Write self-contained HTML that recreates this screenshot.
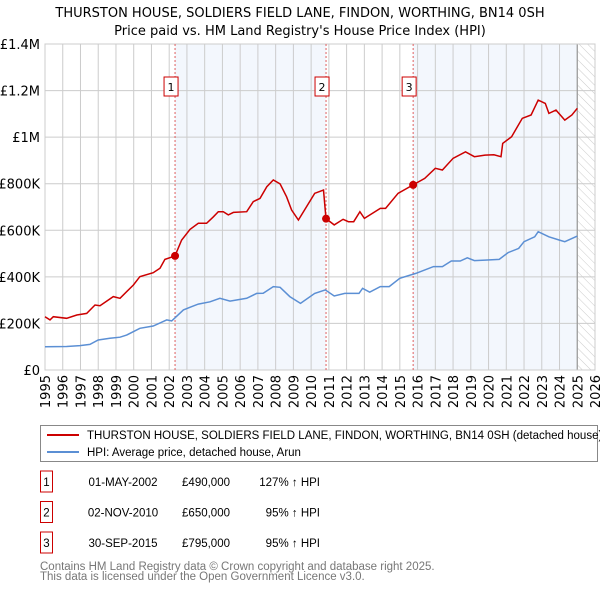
<!DOCTYPE html>
<html><head><meta charset="utf-8"><style>
body{margin:0;background:#fff;font-family:"Liberation Sans","DejaVu Sans",sans-serif;}
svg text{font-family:"DejaVu Sans","Liberation Sans",sans-serif;}
svg text.ls{font-family:"Liberation Sans","DejaVu Sans",sans-serif;}
</style></head><body>
<svg id="c" width="600" height="590" xmlns="http://www.w3.org/2000/svg">
<defs><pattern id="hatch" width="6" height="6" patternUnits="userSpaceOnUse" patternTransform="rotate(-45)"><line x1="0" y1="0" x2="0" y2="6" stroke="#ccc" stroke-width="1"/></pattern></defs>
<text x="300" y="17" text-anchor="middle" font-size="13" fill="#000">THURSTON HOUSE, SOLDIERS FIELD LANE, FINDON, WORTHING, BN14 0SH</text>
<text x="300" y="35" text-anchor="middle" font-size="13" fill="#000">Price paid vs. HM Land Registry's House Price Index (HPI)</text>
<g id="plot"></g>
<g>
<rect x="40.5" y="425.5" width="557" height="36" fill="#fff" stroke="#888"/>
<line x1="47" y1="435" x2="79" y2="435" stroke="#cc0000" stroke-width="2"/>
<text class="ls" x="87" y="439" font-size="11.5">THURSTON HOUSE, SOLDIERS FIELD LANE, FINDON, WORTHING, BN14 0SH (detached house)</text>
<line x1="47" y1="452" x2="79" y2="452" stroke="#5b8fd4" stroke-width="2"/>
<text class="ls" x="87" y="456" font-size="11.5">HPI: Average price, detached house, Arun</text>
</g>
<g id="table" font-size="11.5"></g>
<text class="ls" x="40" y="570" font-size="11.5" fill="#777">Contains HM Land Registry data © Crown copyright and database right 2025.</text>
<text class="ls" x="40" y="580" font-size="11.5" fill="#777">This data is licensed under the Open Government Licence v3.0.</text>
</svg>
<script>
const redYears=[1995.0,1995.28,1995.47,1996.22,1996.79,1997.35,1997.82,1998.1,1998.85,1999.23,1999.98,2000.35,2001.1,2001.48,2001.76,2002.33,2002.7,2003.17,2003.64,2004.11,2004.49,2004.77,2005.05,2005.33,2005.62,2006.37,2006.74,2007.12,2007.5,2007.87,2008.25,2008.62,2008.9,2009.28,2010.2,2010.7,2010.84,2011.3,2011.8,2012.1,2012.4,2012.75,2013.0,2013.9,2014.2,2014.9,2015.75,2016.4,2017.0,2017.4,2018.0,2018.7,2019.2,2019.8,2020.3,2020.7,2020.8,2021.3,2021.9,2022.4,2022.8,2023.2,2023.4,2023.8,2024.3,2024.7,2025.0];
const redValues=[229,215,229,222,236,243,279,276,315,308,365,401,418,437,475,490,558,604,630,630,658,680,680,666,677,680,723,737,787,816,799,744,687,644,759,773,650,623,647,637,637,680,651,694,694,759,795,823,866,859,909,937,916,923,924,916,973,1002,1081,1095,1159,1145,1102,1116,1073,1095,1124];
const hpiYears=[1995.0,1996.22,1996.97,1997.53,1998.0,1998.66,1999.23,1999.6,2000.35,2001.1,2001.86,2002.14,2002.8,2003.26,2003.64,2004.3,2004.86,2005.43,2006.37,2006.93,2007.3,2007.87,2008.25,2008.8,2009.4,2010.2,2010.8,2011.3,2011.9,2012.7,2012.9,2013.3,2013.9,2014.4,2015.0,2015.9,2016.9,2017.4,2017.9,2018.4,2018.8,2019.2,2019.8,2020.6,2021.1,2021.7,2022.0,2022.6,2022.8,2023.4,2024.0,2024.3,2025.0];
const hpiValues=[100,101,105,110,129,136,141,150,179,189,215,211,258,272,283,293,308,296,308,329,330,358,355,315,286,329,344,318,329,329,351,334,358,358,394,415,444,444,468,468,482,470,472,475,504,522,551,572,594,572,558,551,575];
const saleYears=[2002.33,2010.84,2015.75];
const saleValues=[490,650,795];
const saleDates=["01-MAY-2002","02-NOV-2010","30-SEP-2015"];
const salePrices=["£490,000","£650,000","£795,000"];
const saleHpi=["127% ↑ HPI","95% ↑ HPI","95% ↑ HPI"];
const yTicks=[0,200,400,600,800,1000,1200,1400];
const yTickLabels=["£0","£200K","£400K","£600K","£800K","£1M","£1.2M","£1.4M"];
const xStart=1995,xEnd=2026,dataEnd=2025.0;

const L=45,R=595,T=44,B=370,NS="http://www.w3.org/2000/svg";
const X=y=>L+(y-xStart)/(xEnd-xStart)*(R-L);
const Y=v=>B-v/1400*(B-T);
const plot=document.getElementById('plot');
function mk(tag,attrs,parent){const e=document.createElementNS(NS,tag);for(const k in attrs)e.setAttribute(k,attrs[k]);(parent||plot).appendChild(e);return e;}
let bg=mk('rect',{x:L,y:T,width:R-L,height:B-T,fill:'#fff'});


const shadeRanges=[[saleYears[0],saleYears[1]],[saleYears[2],dataEnd]];
shadeRanges.forEach(r=>{let s=mk('rect',{x:X(r[0]),y:T,width:X(r[1])-X(r[0]),height:B-T,fill:'#eef3fc',opacity:0.7});

});
let h=mk('rect',{x:X(dataEnd),y:T,width:R-X(dataEnd),height:B-T,fill:'url(#hatch)'});


for(let yr=xStart;yr<=xEnd;yr++){let g=mk('line',{x1:X(yr),x2:X(yr),y1:T,y2:B,stroke:'#ccc','stroke-width':1});


let t=mk('text',{x:0,y:0,'font-size':13,'text-anchor':'end',transform:`translate(${X(yr)+5},${B+5}) rotate(-90)`});
t.textContent=yr;

}
yTicks.forEach((v,i)=>{let g=mk('line',{x1:L,x2:R,y1:Y(v),y2:Y(v),stroke:'#ccc','stroke-width':1});


let t=mk('text',{x:40,y:Y(v)+5,'font-size':13,'text-anchor':'end'});
t.textContent=yTickLabels[i];

});
let el=mk('line',{x1:X(dataEnd),x2:X(dataEnd),y1:T,y2:B,stroke:'#999','stroke-width':1.2});


let fr=mk('rect',{x:L,y:T,width:R-L,height:B-T,fill:'none',stroke:'#ccc'});


saleYears.forEach((yr,i)=>{let l=mk('line',{x1:X(yr),x2:X(yr),y1:T,y2:B,stroke:'#e06060','stroke-width':1,'stroke-dasharray':'2,2'});


let b=mk('rect',{x:X(yr)-11,y:77,width:14,height:19,fill:'#fff',stroke:'#cc0000'});


let t=mk('text',{x:X(yr)-4,y:91,'font-size':11,'text-anchor':'middle'});
t.textContent=i+1;

});
const pts=(xs,vs)=>xs.map((x,i)=>X(x).toFixed(1)+','+Y(vs[i]).toFixed(1)).join(' ');
let hl=mk('polyline',{points:pts(hpiYears,hpiValues),fill:'none',stroke:'#5b8fd4','stroke-width':1.5});


let rl=mk('polyline',{points:pts(redYears,redValues),fill:'none',stroke:'#cc0000','stroke-width':1.5});


saleYears.forEach((yr,i)=>{let c=mk('circle',{cx:X(yr),cy:Y(saleValues[i]),r:4,fill:'#cc0000'});

});
const tb=document.getElementById('table');
saleDates.forEach((d,i)=>{const cy=482+i*30.5;
let b=mk('rect',{x:40.5,y:cy-11,width:12,height:21,fill:'#fff',stroke:'#cc0000'},tb);


const cells=[[46.5,String(i+1),'middle'],[123,d,'middle'],[230,salePrices[i],'end'],[320,saleHpi[i],'end']];
cells.forEach(c=>{let t=mk('text',{x:c[0],y:cy+4,'text-anchor':c[2],'class':'ls'},tb);
t.textContent=c[1];

});});
</script>
</body></html>
